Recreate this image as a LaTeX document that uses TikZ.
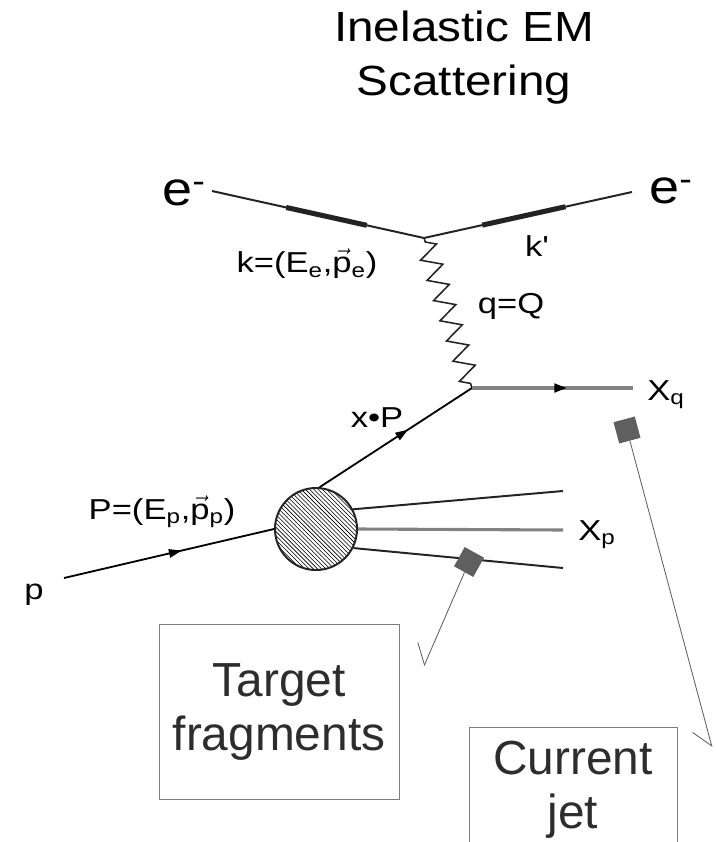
\documentclass[tikz,border=0pt]{standalone}
\usepackage{fontspec}
\setmainfont{Liberation Sans}
\newfontfamily\widefont[FakeStretch=1.13]{Liberation Sans}
\newfontfamily\labfont[FakeStretch=1.2]{Liberation Sans}
\usetikzlibrary{positioning,arrows.meta,calc,decorations.pathmorphing,decorations.markings,patterns}
\definecolor{LineGrey}{RGB}{35,35,35}
\definecolor{QuarkGrey}{RGB}{130,130,130}
\definecolor{BoxGrey}{RGB}{125,125,125}
\definecolor{MarkGrey}{RGB}{95,95,95}
\definecolor{BoxText}{RGB}{45,45,45}
\newcommand{\vecp}{$\vec{\mbox{p}}$}

\begin{document}
\begin{tikzpicture}[x=0.025cm, y=-0.025cm,
  every node/.style={font=\labfont\fontsize{20.5}{24}\selectfont, inner sep=0pt},
  title/.style={font=\widefont\fontsize{30}{38}\selectfont, align=center},
  boxlabel/.style={draw=BoxGrey, line width=0.6pt, text=BoxText, align=center, inner sep=0.2cm, font=\fontsize{34}{38}\selectfont},
  fermion/.style={draw=LineGrey, line width=1.4pt},
  heavy/.style={draw=LineGrey, line width=3.6pt},
  photon/.style={draw=LineGrey, line width=1.1pt, decorate, decoration={zigzag, segment length=0.53cm, amplitude=0.25cm, pre length=3pt, post length=3pt}},
  midarrow/.style={postaction={decorate}, decoration={markings, mark=at position #1 with {\arrow[black]{Triangle[length=9pt,width=6pt]}}}},
  marker/.style={fill=MarkGrey, minimum size=0.55cm},
  pointer/.style={draw=MarkGrey, line width=0.6pt, -{Straight Barb[right,length=0.45cm,width=0.75cm]}}]
  \useasboundingbox (0,0) rectangle (716,842);
  \clip (0,0) rectangle (716,842);

  \node[title, anchor=north] (head) at (464,11) {Inelastic EM\\Scattering};

  \node[title, font=\widefont\fontsize{34}{38}\selectfont, anchor=base west] (eL) at (162,205) {e\textsuperscript{-}};
  \node[title, font=\widefont\fontsize{34}{38}\selectfont, anchor=base west] (eR) at (649,203) {e\textsuperscript{-}};
  \coordinate (ein) at (212,191);
  \coordinate (eout) at (632,192);
  \coordinate (v1) at (424,238);
  \coordinate (v2) at (472,388);

  \draw[fermion] (ein) -- (v1) -- (eout);
  \draw[heavy] ($(ein)!0.35!(v1)$) -- ($(ein)!0.73!(v1)$);
  \draw[heavy] ($(v1)!0.28!(eout)$) -- ($(v1)!0.68!(eout)$);
  \draw[photon] (v1) -- (v2);

  \node (kin) at (307,264) {k=(E\textsubscript{e},\vecp\textsubscript{e})};
  \node (kout) at (537,246) {k'};
  \node (qlab) at (511,306) {q=Q};

  \node[circle, draw=LineGrey, line width=1.4pt, minimum size=2.05cm, pattern=north west lines, pattern color=black] (blob) at (316,529) {};
  \coordinate (pin) at (64,578);
  \coordinate (xq) at (633,388);
  \coordinate (f1) at (563,491);
  \coordinate (f2) at (563,530);
  \coordinate (f3) at (563,568);

  \draw[fermion, draw=black, line width=1.3pt, midarrow=0.56] (pin) -- (blob.west);
  \draw[fermion, draw=black, line width=1.3pt, midarrow=0.58] (blob.85) -- (v2);
  \draw[draw=QuarkGrey, line width=2.2pt, midarrow=0.59] (v2) -- (xq);
  \draw[fermion] (blob.28) -- (f1);
  \draw[draw=QuarkGrey, line width=2.2pt] (blob.0) -- (f2);
  \draw[fermion] (blob.-27) -- (f3);

  \node (plab) at (34,595) {p};
  \node (Plab) at (162,512) {P=(E\textsubscript{p},\vecp\textsubscript{p})};
  \node (xP) at (377,418) {x•P};
  \node[anchor=base west] (Xq) at (647,400) {X\textsubscript{q}};
  \node[anchor=base west] (Xp) at (578,540) {X\textsubscript{p}};

  \node[marker, rotate=-29] (m1) at (469,562) {};
  \node[marker, rotate=15] (m2) at (627,430) {};
  \coordinate (t1) at (424,666);
  \coordinate (t2) at (712,747);
  \draw[pointer] (m1) -- (t1);
  \draw[pointer] (m2) -- (t2);

  \node[boxlabel, minimum width=6cm, minimum height=4.375cm] (target) at (279,712) {Target\\fragments};
  \node[boxlabel, minimum width=5.2cm, inner ysep=0.35cm, anchor=north] (jet) at (573,727) {Current\\jet};
\end{tikzpicture}
\end{document}
